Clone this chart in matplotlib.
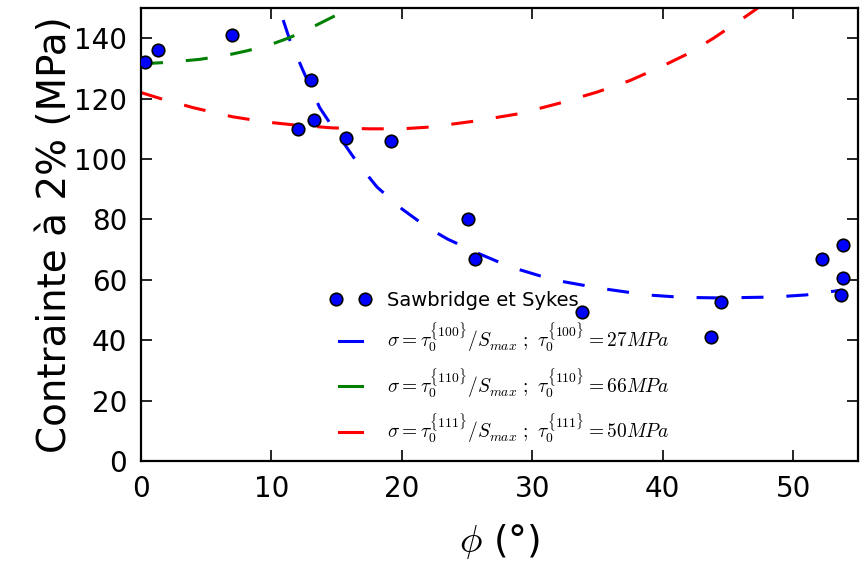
import matplotlib
matplotlib.use("Agg")
import matplotlib.pyplot as plt
from matplotlib.legend_handler import HandlerLine2D

plt.rcParams['mathtext.fontset'] = 'cm'
plt.rcParams['font.family'] = 'DejaVu Sans'

# Sawbridge et Sykes measurements
phi_exp = [0.3, 1.3, 7.0, 12.0, 13.0, 13.3, 15.7, 19.2, 25.1, 25.6,
           33.8, 43.7, 44.5, 52.2, 53.8, 53.8, 53.7]
sig_exp = [132, 136, 141, 110, 126, 113, 107, 106, 80, 67,
           49.5, 41, 52.5, 67, 71.5, 60.5, 55]

# model curves
phi_100 = [10.9, 11.4, 12.4, 13.7, 14.7, 16.6, 18.1, 20.0, 21.9, 23.5, 26.0,
           28.3, 31.6, 35.2, 38.8, 41.5, 44.4, 48.5, 51.0, 53.6]
sig_100 = [146, 139.5, 129.5, 117, 110.5, 98.7, 90.7, 83.5, 77.5, 73.5, 68.5,
           64.3, 60, 57.2, 55, 54.2, 54, 54.3, 55, 56.5]

phi_110 = [0.0, 2.0, 4.5, 6.5, 8.1, 10.0, 11.4, 13.2, 15.0, 16.3]
sig_110 = [131.5, 132, 133, 134.3, 135.8, 138, 140.2, 143.8, 147.7, 150.5]

phi_111 = [0.0, 1.5, 4.0, 7.0, 9.5, 11.7, 14.7, 17.5, 20.0, 22.2, 25.5,
           29.0, 32.1, 35.0, 37.5, 40.0, 42.0, 43.9, 46.1, 47.3]
sig_111 = [122, 120, 117, 114, 112.3, 111.3, 110.3, 110, 110, 110.6, 112.5,
           115, 118.5, 122.2, 126, 130.8, 135, 140, 146.4, 150]

labels = [r'$\sigma=\tau_0^{\{100\}}/S_{max}\ ;\ \tau_0^{\{100\}}=27MPa$',
          r'$\sigma=\tau_0^{\{110\}}/S_{max}\ ;\ \tau_0^{\{110\}}=66MPa$',
          r'$\sigma=\tau_0^{\{111\}}/S_{max}\ ;\ \tau_0^{\{111\}}=50MPa$']


def solid_handle(legline, orig):
    legline.update_from(orig)
    legline.set_linestyle('-')


fig = plt.figure(figsize=(8.6, 5.72), dpi=100)
ax = fig.add_axes([0.164, 0.194, 0.834, 0.792])

dash = (0, (7.2, 7.5))
pts, = ax.plot(phi_exp, sig_exp, 'o', color='blue', mec='black', mew=1.2,
               ms=9, label='Sawbridge et Sykes', zorder=3)
l1, = ax.plot(phi_100, sig_100, color='blue', lw=2.2, ls=dash, label=labels[0])
l2, = ax.plot(phi_110, sig_110, color='green', lw=2.2, ls=dash, label=labels[1])
l3, = ax.plot(phi_111, sig_111, color='red', lw=2.2, ls=dash, label=labels[2])

ax.set_xlim(0, 55)
ax.set_ylim(0, 150)
ax.set_xticks([0, 10, 20, 30, 40, 50])
ax.set_yticks(range(0, 141, 20))
ax.tick_params(direction='in', top=True, right=True, length=8, width=1.2,
               labelsize=20, pad=10)
for s in ax.spines.values():
    s.set_linewidth(1.6)

ax.set_xlabel(r'$\phi$ (°)', fontsize=27, labelpad=14)
ax.set_ylabel('Contrainte à 2% (MPa)', fontsize=28, labelpad=0)

hmap = {pts: HandlerLine2D(marker_pad=-0.14)}
for ln in (l1, l2, l3):
    hmap[ln] = HandlerLine2D(marker_pad=0, update_func=solid_handle)

ax.legend(loc='upper left', bbox_to_anchor=(0.265, 0.393), frameon=False,
          numpoints=2, fontsize=14, handlelength=1.2, handletextpad=1.3,
          labelspacing=0.55, borderaxespad=0, handler_map=hmap)

fig.savefig('out.png', dpi=100)
